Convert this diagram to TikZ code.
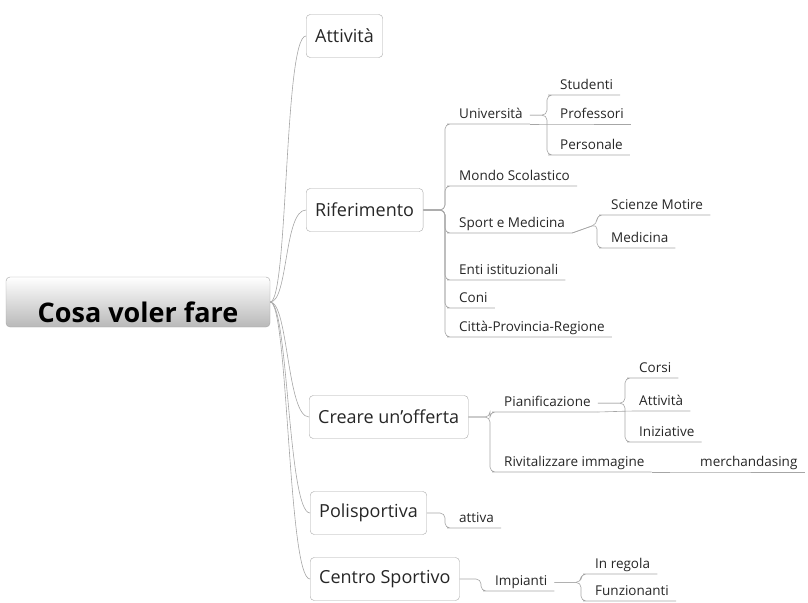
\documentclass[tikz,border=0pt]{standalone}
\usepackage{fontspec}
\setmainfont{Open Sans}
\usetikzlibrary{calc}
\tikzset{
  rootbox/.style={draw=gray!70, rounded corners=4pt, top color=white, bottom color=gray!55,
    minimum width=264pt, minimum height=50pt, text height=40pt, text depth=0pt,
    font=\fontsize{27}{31}\selectfont\bfseries, text=black},
  topic/.style={draw=gray!70, rounded corners=4pt, inner xsep=9pt, minimum height=43pt,
    anchor=west, font=\fontsize{18}{21}\selectfont, text=black!85},
  leaf/.style={anchor=south west, inner xsep=7pt, inner ysep=2pt, text depth=3pt,
    font=\fontsize{13.5}{16}\selectfont, text=black!85},
  link/.style={draw=gray!70, line width=0.6pt, rounded corners=5pt},
}

\begin{document}
\begin{tikzpicture}[x=1pt,y=-1pt]
  \useasboundingbox (0,0) rectangle (808,602);

  % centre
  \node[rootbox] (root) at (138,302) {Cosa voler fare};

  % main topics
  \node[topic] (attiv) at (306,36) {Attività};
  \node[topic] (rif) at (306,210) {Riferimento};
  \node[topic] (cre) at (309,417) {Creare un'offerta};
  \node[topic] (pol) at (310,513) {Polisportiva};
  \node[topic] (cen) at (310,579) {Centro Sportivo};

  \draw[link] (root.east) .. controls +(18,0) and +(-22,0) .. (attiv.west);
  \draw[link] (root.east) .. controls +(18,0) and +(-22,0) .. (rif.west);
  \draw[link] (root.east) .. controls +(18,0) and +(-22,0) .. (cre.west);
  \draw[link] (root.east) .. controls +(18,0) and +(-22,0) .. (pol.west);
  \draw[link] (root.east) .. controls +(18,0) and +(-22,0) .. (cen.west);

  % Riferimento
  \node[leaf] (uni) at (452,124) {Università};
  \node[leaf] (stud) at (553,95) {Studenti};
  \node[leaf] (prof) at (553,124) {Professori};
  \node[leaf] (pers) at (553,155) {Personale};
  \node[leaf] (mondo) at (452,186) {Mondo Scolastico};
  \node[leaf] (sport) at (452,233) {Sport e Medicina};
  \node[leaf] (scien) at (604,215) {Scienze Motire};
  \node[leaf] (medic) at (604,248) {Medicina};
  \node[leaf] (enti) at (452,280) {Enti istituzionali};
  \node[leaf] (coni) at (452,308) {Coni};
  \node[leaf] (citta) at (452,337) {Città-Provincia-Regione};

  \coordinate (rifj) at ($(uni.south west |- rif.east)+(-7,0)$);
  \coordinate (unij) at ($(stud.south west |- uni.east)+(-6,0)$);
  \coordinate (sportj) at ($(scien.south west |- sport.east)+(-7,0)$);

  \draw[link] (rif.east) -- (rifj) |- (uni.south west) -- (uni.south east);
  \draw[link] (rif.east) -- (rifj) |- (mondo.south west) -- (mondo.south east);
  \draw[link] (rif.east) -- (rifj) |- (sport.south west) -- (sport.south east);
  \draw[link] (rif.east) -- (rifj) |- (enti.south west) -- (enti.south east);
  \draw[link] (rif.east) -- (rifj) |- (coni.south west) -- (coni.south east);
  \draw[link] (rif.east) -- (rifj) |- (citta.south west) -- (citta.south east);

  \draw[link] (uni.east) -- (unij) |- (stud.south west) -- (stud.south east);
  \draw[link] (uni.south east) -- (prof.south west) -- (prof.south east);
  \draw[link] (uni.east) -- (unij) |- (pers.south west) -- (pers.south east);

  \draw[link] (sport.south east) -- (sportj) |- (scien.south west) -- (scien.south east);
  \draw[link] (sport.south east) -- (sportj) |- (medic.south west) -- (medic.south east);

  % Creare un'offerta
  \node[leaf] (pian) at (497,412) {Pianificazione};
  \node[leaf] (corsi) at (632,378) {Corsi};
  \node[leaf] (attiv2) at (632,411) {Attività};
  \node[leaf] (iniz) at (632,442) {Iniziative};
  \node[leaf] (riv) at (497,472) {Rivitalizzare immagine};
  \node[leaf] (merch) at (693,472) {merchandasing};

  \coordinate (crej) at ($(pian.south west |- cre.east)+(-7,0)$);
  \coordinate (pianj) at ($(corsi.south west |- pian.east)+(-7,0)$);

  \draw[link] (cre.east) -- (crej) |- (pian.south west) -- (pian.south east);
  \draw[link] (cre.east) -- (crej) |- (riv.south west) -- (riv.south east);
  \draw[link] (pian.east) -- (pianj) |- (corsi.south west) -- (corsi.south east);
  \draw[link] (pian.south east) -- (attiv2.south west) -- (attiv2.south east);
  \draw[link] (pian.east) -- (pianj) |- (iniz.south west) -- (iniz.south east);
  \draw[link] (riv.south east) -- (merch.south west) -- (merch.south east);

  % Polisportiva, Centro Sportivo
  \node[leaf] (attiva) at (452,528) {attiva};
  \node[leaf] (imp) at (488,591) {Impianti};
  \node[leaf] (inreg) at (588,574) {In regola};
  \node[leaf] (funz) at (588,601) {Funzionanti};

  \coordinate (polj) at ($(attiva.south west |- pol.east)+(-7,0)$);
  \coordinate (cenj) at ($(imp.south west |- cen.east)+(-7,0)$);
  \coordinate (impj) at ($(inreg.south west |- imp.east)+(-7,0)$);

  \draw[link] (pol.east) -- (polj) |- (attiva.south west) -- (attiva.south east);
  \draw[link] (cen.east) -- (cenj) |- (imp.south west) -- (imp.south east);
  \draw[link] (imp.east) -- (impj) |- (inreg.south west) -- (inreg.south east);
  \draw[link] (imp.east) -- (impj) |- (funz.south west) -- (funz.south east);
\end{tikzpicture}
\end{document}
